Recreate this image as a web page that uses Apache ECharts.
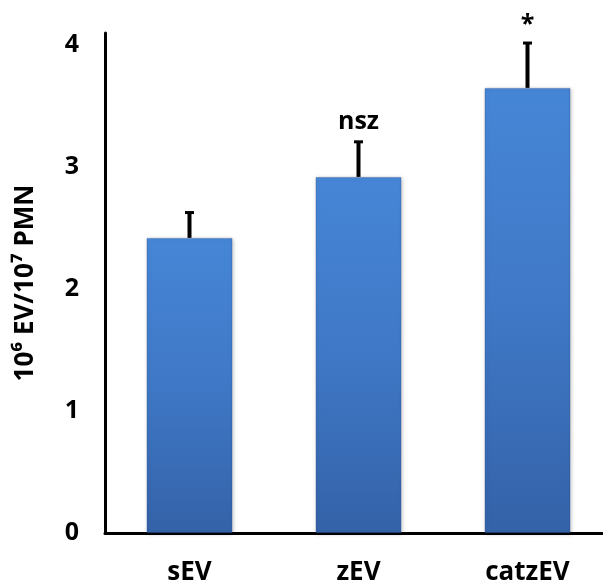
<!DOCTYPE html>
<html>
<head>
<meta charset="utf-8">
<script src="https://cdn.jsdelivr.net/npm/echarts@6/dist/echarts.min.js"></script>
<style>html,body{margin:0;padding:0;background:#fff}#c{width:603px;height:580px}</style>
</head>
<body>
<div id="c"></div>
<script>
var categories = ['sEV', 'zEV', 'catzEV'];
var means = [2.42, 2.92, 3.65];
var errors = [0.22, 0.30, 0.38];
var annotations = ['', 'nsz', '*'];
var yTicks = [0, 1, 2, 3, 4];

var FONT = '"Open Sans", "DejaVu Sans", sans-serif';
var chart = echarts.init(document.getElementById('c'));
chart.setOption({
  animation: false,
  grid: { left: 105, top: 33, bottom: 47, width: 507, containLabel: false, outerBoundsMode: 'none' },
  xAxis: {
    type: 'category',
    data: categories,
    axisLine: { lineStyle: { color: '#000', width: 3 } },
    axisTick: { show: false },
    axisLabel: { color: '#000', fontFamily: FONT, fontWeight: 'bold', fontSize: 26, margin: 27 }
  },
  yAxis: {
    type: 'value',
    min: 0, max: 4.1, interval: 1,
    name: '10\u2076 EV/10\u2077 PMN',
    nameLocation: 'middle',
    nameGap: 66,
    nameRotate: 90,
    nameTextStyle: { color: '#000', fontFamily: FONT, fontWeight: 'bold', fontSize: 26 },
    splitLine: { show: false },
    axisLine: { show: true, lineStyle: { color: '#000', width: 3 } },
    axisTick: { show: false },
    axisLabel: {
      color: '#000', fontFamily: FONT, fontWeight: 'bold', fontSize: 25, margin: 26,
      formatter: function (v) { return yTicks.indexOf(v) >= 0 ? String(v) : ''; }
    }
  },
  series: [
    {
      type: 'bar',
      data: means,
      barWidth: 86,
      itemStyle: {
        color: new echarts.graphic.LinearGradient(0, 0, 0, 1, [
          { offset: 0, color: '#4686d6' },
          { offset: 0.5, color: '#3f78c6' },
          { offset: 1, color: '#3462a8' }
        ]),
        borderColor: 'rgba(40,80,150,0.35)',
        borderWidth: 1,
        shadowColor: 'rgba(0,0,0,0.25)',
        shadowBlur: 4,
        shadowOffsetX: 1,
        shadowOffsetY: 1
      }
    },
    {
      type: 'custom',
      data: means.map(function (m, i) { return [i, m, m + errors[i]]; }),
      renderItem: function (params, api) {
        var i = api.value(0);
        var p0 = api.coord([i, api.value(1)]);
        var p1 = api.coord([i, api.value(2)]);
        var children = [
          { type: 'line', shape: { x1: p0[0], y1: p0[1], x2: p1[0], y2: p1[1] + 1 },
            style: { stroke: '#000', lineWidth: 4 } },
          { type: 'line', shape: { x1: p1[0] - 4.5, y1: p1[1] + 1.5, x2: p1[0] + 4.5, y2: p1[1] + 1.5 },
            style: { stroke: '#000', lineWidth: 3 } }
        ];
        var t = annotations[params.dataIndex];
        if (t) {
          children.push({ type: 'text', x: p1[0], y: p1[1] - (t === '*' ? 4 : 6),
            style: { text: t, fill: '#000', font: 'bold 25px ' + FONT, align: 'center', verticalAlign: 'bottom' } });
        }
        return { type: 'group', children: children };
      },
      z: 5
    }
  ]
});
</script>
</body>
</html>
